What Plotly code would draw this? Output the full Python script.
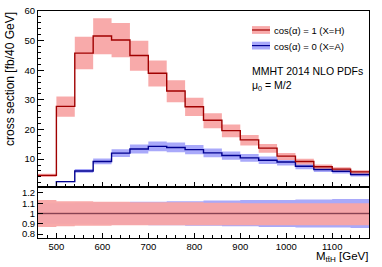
import plotly.graph_objects as go

# ---------------- data ----------------
bin_edges = [460, 500, 540, 580, 620, 660, 700, 740, 780, 820, 860, 900,
             940, 980, 1020, 1060, 1100, 1140, 1180]
xsec_H = [4.5, 27.8, 45.8, 51.6, 50.2, 45.0, 39.0, 33.0, 27.7, 23.1, 19.6,
          16.5, 13.7, 11.0, 9.2, 7.4, 6.6, 5.7]
xsec_A = [0.4, 2.4, 6.0, 9.2, 12.0, 13.4, 14.3, 13.9, 13.2, 12.1, 11.2,
          10.4, 9.6, 9.0, 7.6, 6.5, 5.9, 4.8]
relup_H = [0.13, 0.12, 0.12, 0.115, 0.115, 0.11, 0.11, 0.11, 0.11, 0.105,
           0.105, 0.10, 0.10, 0.10, 0.10, 0.10, 0.10, 0.10]
reldn_H = [0.13, 0.125, 0.12, 0.12, 0.115, 0.115, 0.115, 0.115, 0.115, 0.115,
           0.115, 0.115, 0.115, 0.115, 0.115, 0.115, 0.115, 0.115]
relup_A = [0.10, 0.10, 0.105, 0.11, 0.11, 0.115, 0.115, 0.12, 0.12, 0.125,
           0.125, 0.13, 0.13, 0.13, 0.135, 0.135, 0.14, 0.14]
reldn_A = [0.10, 0.10, 0.10, 0.105, 0.11, 0.11, 0.115, 0.115, 0.12, 0.12,
           0.125, 0.125, 0.13, 0.13, 0.135, 0.135, 0.135, 0.14]
main_yticks = [10, 20, 30, 40, 50, 60]
ratio_yticks = [0.8, 0.9, 1.0, 1.1, 1.2]
ratio_ylabels = ["0.8", "0.9", "1", "1.1", "1.2"]
x_ticks = [500, 600, 700, 800, 900, 1000, 1100]

# ---------------- style ----------------
W, H = 382, 267
ML, MR, MT, MB = 38, 13, 5, 29
RED_LINE = "#a00000"
BLUE_LINE = "#000090"
RED_FILL = "rgba(248,165,165,0.95)"
BLUE_FILL = "rgba(160,160,250,0.9)"
FONT = "Liberation Sans, Arial, sans-serif"

plot_w = W - ML - MR
plot_h = H - MT - MB
split = (238 - 186) / plot_h  # fraction of plot height used by ratio pad


def px(xp):
    return (xp - ML) / plot_w


def py(yp):
    return (H - MB - yp) / plot_h


def step(vals):
    return list(vals) + [vals[-1]]


fig = go.Figure()


def add_band(lo, hi, fill, xa, ya):
    fig.add_trace(go.Scatter(x=bin_edges, y=step(lo), mode="lines",
                             line=dict(width=0, shape="hv"), hoverinfo="skip",
                             showlegend=False, xaxis=xa, yaxis=ya))
    fig.add_trace(go.Scatter(x=bin_edges, y=step(hi), mode="lines",
                             line=dict(width=0, shape="hv"), fill="tonexty",
                             fillcolor=fill, hoverinfo="skip",
                             showlegend=False, xaxis=xa, yaxis=ya))


def add_line(vals, color, xa, ya, width=1.4):
    fig.add_trace(go.Scatter(x=bin_edges, y=step(vals), mode="lines",
                             line=dict(color=color, width=width, shape="hv"),
                             hoverinfo="skip", showlegend=False,
                             xaxis=xa, yaxis=ya))


# main pad bands
lo_A = [v * (1 - d) for v, d in zip(xsec_A, reldn_A)]
hi_A = [v * (1 + u) for v, u in zip(xsec_A, relup_A)]
lo_H = [v * (1 - d) for v, d in zip(xsec_H, reldn_H)]
hi_H = [v * (1 + u) for v, u in zip(xsec_H, relup_H)]
add_band(lo_A, hi_A, BLUE_FILL, "x", "y")
add_band(lo_H, hi_H, RED_FILL, "x", "y")
add_line(xsec_A, BLUE_LINE, "x", "y")
add_line(xsec_H, RED_LINE, "x", "y")

# ratio pad
add_band([1 - d for d in reldn_A], [1 + u for u in relup_A], BLUE_FILL, "x2", "y2")
add_band([1 - d for d in reldn_H], [1 + u for u in relup_H], RED_FILL, "x2", "y2")
add_line([1.0] * len(xsec_A), "rgba(0,0,140,0.5)", "x2", "y2", 1.2)
add_line([1.0] * len(xsec_H), "rgba(140,60,60,0.75)", "x2", "y2", 1.3)

axis_common = dict(showline=True, linecolor="black", linewidth=1, mirror=True,
                   ticks="inside", tickcolor="black", showgrid=False,
                   zeroline=False, ticklabeloverflow="allow",
                   tickfont=dict(family=FONT, size=9.5, color="black"))

fig.update_layout(
    width=W, height=H,
    margin=dict(l=ML, r=MR, t=MT, b=MB),
    paper_bgcolor="white", plot_bgcolor="white",
    showlegend=False,
    xaxis=dict(axis_common, domain=[0, 1], range=[460, 1180], anchor="y",
               tickvals=x_ticks, showticklabels=False, ticklen=5,
               minor=dict(dtick=20, tick0=500, ticklen=3, ticks="inside", tickcolor="black")),
    yaxis=dict(axis_common, domain=[split, 1], range=[0.46, 60.02], anchor="x",
               tickvals=main_yticks, ticklen=6,
               minor=dict(dtick=2, tick0=0, ticklen=3, ticks="inside", tickcolor="black")),
    xaxis2=dict(axis_common, domain=[0, 1], range=[460, 1180], anchor="y2",
                tickvals=x_ticks, ticklen=5,
                minor=dict(dtick=20, tick0=500, ticklen=3, ticks="inside", tickcolor="black")),
    yaxis2=dict(axis_common, domain=[0, split], range=[0.762, 1.254], anchor="x2",
                tickvals=ratio_yticks, ticktext=ratio_ylabels, ticklen=5),
)

shapes = []
annotations = []
# legend entries
for yc, fill, lc, txt in [(24.5, RED_FILL, RED_LINE, "cos(α) = 1 (X=H)"),
                          (40.5, BLUE_FILL, BLUE_LINE, "cos(α) = 0 (X=A)")]:
    shapes.append(dict(type="rect", xref="paper", yref="paper",
                       x0=px(252), x1=px(270), y0=py(yc + 4), y1=py(yc - 4),
                       fillcolor=fill, line=dict(width=0)))
    shapes.append(dict(type="line", xref="paper", yref="paper",
                       x0=px(252), x1=px(270), y0=py(yc), y1=py(yc),
                       line=dict(color=lc, width=1.2)))
    annotations.append(dict(xref="paper", yref="paper", x=px(272), y=py(yc + 1),
                            text=txt, showarrow=False, xanchor="left", yanchor="middle",
                            font=dict(family=FONT, size=9.5, color="black")))
annotations.append(dict(xref="paper", yref="paper", x=px(250), y=py(67),
                        text="MMHT 2014 NLO PDFs", showarrow=False,
                        xanchor="left", yanchor="middle",
                        font=dict(family=FONT, size=10.5, color="black")))
annotations.append(dict(xref="paper", yref="paper", x=px(250), y=py(82),
                        text="μ<sub>0</sub> = M/2", showarrow=False,
                        xanchor="left", yanchor="middle",
                        font=dict(family=FONT, size=10.5, color="black")))
# axis titles
annotations.append(dict(xref="paper", yref="paper", x=px(10), y=py(4),
                        text="cross section [fb/40 GeV]", showarrow=False,
                        textangle=-90, xanchor="center", yanchor="top",
                        font=dict(family=FONT, size=12, color="black")))
annotations.append(dict(xref="paper", yref="paper", x=px(371), y=py(258),
                        text="M<sub>tt̄H</sub> [GeV]", showarrow=False,
                        xanchor="right", yanchor="middle",
                        font=dict(family=FONT, size=11.5, color="black")))

fig.update_layout(shapes=shapes, annotations=annotations)
fig.write_html("out.html",
               config={"displayModeBar": False, "staticPlot": True},
               post_script="document.body.style.margin='0';"
                           "document.body.style.overflow='hidden';")
